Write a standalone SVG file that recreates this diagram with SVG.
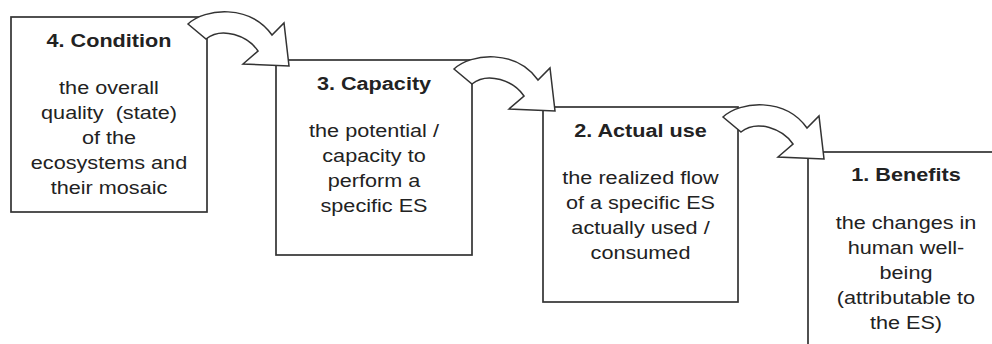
<svg xmlns="http://www.w3.org/2000/svg" width="992" height="344" viewBox="0 0 992 344">
<defs>
<style>
.box{fill:#fff;stroke:#333;stroke-width:1.7}
.arrow{fill:#fff;stroke:#333;stroke-width:1.5;stroke-linejoin:miter}
text{font-family:"Liberation Sans",Arial,sans-serif;font-size:18.5px;fill:#222;text-anchor:middle;white-space:pre}
.t{font-weight:bold}
</style>
<path id="arr" d="M188,24 C205,8 250,4 272,35 L284,23 L289,66 L243,64 L258,51 C248,36 222,26 206,39 Z"/>
</defs>
<rect width="992" height="344" fill="#fff"/>
<g id="node4">
<rect class="box" x="11" y="17" width="196" height="195"/>
<g transform="translate(109,0) scale(1.17,1)">
<text class="t" x="0" y="47">4. Condition</text>
<text x="0" y="94">the overall</text>
<text x="0" y="119">quality  (state)</text>
<text x="0" y="144">of the</text>
<text x="0" y="169">ecosystems and</text>
<text x="0" y="194">their mosaic</text>
</g>
</g>
<g id="node3">
<rect class="box" x="276" y="60" width="196" height="195"/>
<g transform="translate(374,0) scale(1.17,1)">
<text class="t" x="0" y="90">3. Capacity</text>
<text x="0" y="137">the potential /</text>
<text x="0" y="162">capacity to</text>
<text x="0" y="187">perform a</text>
<text x="0" y="212">specific ES</text>
</g>
</g>
<g id="node2">
<rect class="box" x="543" y="107" width="195" height="195"/>
<g transform="translate(640.5,0) scale(1.17,1)">
<text class="t" x="0" y="137">2. Actual use</text>
<text x="0" y="184">the realized flow</text>
<text x="0" y="209">of a specific ES</text>
<text x="0" y="234">actually used /</text>
<text x="0" y="259">consumed</text>
</g>
</g>
<g id="node1">
<rect class="box" x="808" y="152" width="196" height="200"/>
<g transform="translate(906,0) scale(1.17,1)">
<text class="t" x="0" y="181">1. Benefits</text>
<text x="0" y="229">the changes in</text>
<text x="0" y="254">human well-</text>
<text x="0" y="279">being</text>
<text x="0" y="304">(attributable to</text>
<text x="0" y="329">the ES)</text>
</g>
</g>
<g id="connectors">
<use href="#arr" class="arrow"/>
<use href="#arr" class="arrow" transform="translate(266,45)"/>
<use href="#arr" class="arrow" transform="translate(535,93)"/>
</g>
</svg>
